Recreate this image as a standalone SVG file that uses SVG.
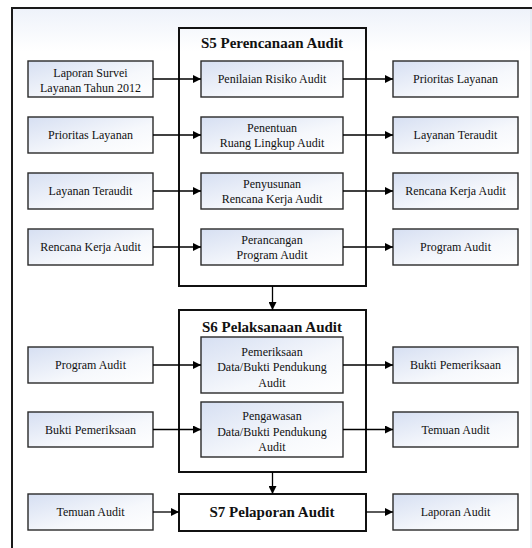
<svg xmlns="http://www.w3.org/2000/svg" width="532" height="548" viewBox="0 0 532 548" font-family="Liberation Serif, Times New Roman, serif">
<defs>
<linearGradient id="g" x1="0" y1="0" x2="1" y2="1">
<stop offset="0" stop-color="#d6dff2"/>
<stop offset="0.6" stop-color="#f6f8fc"/>
<stop offset="1" stop-color="#ffffff"/>
</linearGradient>
<linearGradient id="bg" x1="0" y1="0" x2="0" y2="1">
<stop offset="0" stop-color="#eef2fa"/>
<stop offset="0.08" stop-color="#ffffff"/>
<stop offset="1" stop-color="#ffffff"/>
</linearGradient>
<marker id="ah" viewBox="0 0 10 10" refX="10" refY="5" markerWidth="8" markerHeight="8" markerUnits="userSpaceOnUse" orient="auto">
<path d="M0,0 L10,5 L0,10 z" fill="#000"/>
</marker>
<style>
.b{fill:url(#g);stroke:#2a2a2a;stroke-width:1.4}
.c{fill:none;stroke:#111;stroke-width:2}
.w{fill:#fff;stroke:#111;stroke-width:2}
text{fill:#111;text-anchor:middle}
.t{font-size:12px}
.h{font-size:15px;font-weight:bold}
.a{stroke:#000;stroke-width:1.3;fill:none;marker-end:url(#ah)}
</style>
</defs>
<rect x="12" y="8" width="520" height="540" fill="url(#bg)"/>
<line x1="531" y1="9" x2="531" y2="548" stroke="#dde3ee" stroke-width="1"/>
<path d="M12,548 V8 H532" fill="none" stroke="#1a1a1a" stroke-width="2"/>

<g id="s5">
<rect class="c" x="179" y="28" width="187" height="258"/>
<text class="h" x="272" y="48" font-family="Liberation Serif">S5 Perencanaan Audit</text>
</g>
<g id="s6">
<rect class="c" x="179" y="310" width="187" height="162"/>
<text class="h" x="272" y="332" font-family="Liberation Serif">S6 Pelaksanaan Audit</text>
</g>
<g id="s7">
<rect class="w" x="179" y="494" width="187" height="37"/>
<text class="h" x="272" y="517" font-family="Liberation Serif">S7 Pelaporan Audit</text>
</g>

<g id="in1"><rect class="b" x="28" y="61" width="125" height="36"/><text class="t" x="90.5" y="77">Laporan Survei</text><text class="t" x="90.5" y="92">Layanan Tahun 2012</text></g>
<g id="in2"><rect class="b" x="28" y="117" width="125" height="36"/><text class="t" x="90.5" y="139">Prioritas Layanan</text></g>
<g id="in3"><rect class="b" x="28" y="173" width="125" height="36"/><text class="t" x="90.5" y="195">Layanan Teraudit</text></g>
<g id="in4"><rect class="b" x="28" y="229" width="125" height="36"/><text class="t" x="90.5" y="251">Rencana Kerja Audit</text></g>
<g id="in5"><rect class="b" x="28" y="347" width="125" height="36"/><text class="t" x="90.5" y="369">Program Audit</text></g>
<g id="in6"><rect class="b" x="28" y="412" width="125" height="35"/><text class="t" x="90.5" y="434">Bukti Pemeriksaan</text></g>
<g id="in7"><rect class="b" x="28" y="494" width="125" height="36"/><text class="t" x="90.5" y="516">Temuan Audit</text></g>

<g id="p1"><rect class="b" x="201" y="61" width="142" height="36"/><text class="t" x="272" y="83">Penilaian Risiko Audit</text></g>
<g id="p2"><rect class="b" x="201" y="117" width="142" height="36"/><text class="t" x="272" y="132">Penentuan</text><text class="t" x="272" y="147">Ruang Lingkup Audit</text></g>
<g id="p3"><rect class="b" x="201" y="173" width="142" height="36"/><text class="t" x="272" y="188">Penyusunan</text><text class="t" x="272" y="203">Rencana Kerja Audit</text></g>
<g id="p4"><rect class="b" x="201" y="229" width="142" height="36"/><text class="t" x="272" y="244">Perancangan</text><text class="t" x="272" y="259">Program Audit</text></g>
<g id="p5"><rect class="b" x="201" y="337" width="142" height="56"/><text class="t" x="272" y="356">Pemeriksaan</text><text class="t" x="272" y="371">Data/Bukti Pendukung</text><text class="t" x="272" y="387">Audit</text></g>
<g id="p6"><rect class="b" x="201" y="402" width="142" height="55"/><text class="t" x="272" y="420">Pengawasan</text><text class="t" x="272" y="436">Data/Bukti Pendukung</text><text class="t" x="272" y="451">Audit</text></g>

<g id="out1"><rect class="b" x="393" y="61" width="125" height="36"/><text class="t" x="455.5" y="83">Prioritas Layanan</text></g>
<g id="out2"><rect class="b" x="393" y="117" width="125" height="36"/><text class="t" x="455.5" y="139">Layanan Teraudit</text></g>
<g id="out3"><rect class="b" x="393" y="173" width="125" height="36"/><text class="t" x="455.5" y="195">Rencana Kerja Audit</text></g>
<g id="out4"><rect class="b" x="393" y="229" width="125" height="36"/><text class="t" x="455.5" y="251">Program Audit</text></g>
<g id="out5"><rect class="b" x="393" y="347" width="125" height="36"/><text class="t" x="455.5" y="369">Bukti Pemeriksaan</text></g>
<g id="out6"><rect class="b" x="393" y="412" width="125" height="35"/><text class="t" x="455.5" y="434">Temuan Audit</text></g>
<g id="out7"><rect class="b" x="393" y="494" width="125" height="36"/><text class="t" x="455.5" y="516">Laporan Audit</text></g>

<g id="connectors">
<line class="a" x1="153" y1="79" x2="201" y2="79"/>
<line class="a" x1="153" y1="135" x2="201" y2="135"/>
<line class="a" x1="153" y1="191" x2="201" y2="191"/>
<line class="a" x1="153" y1="247" x2="201" y2="247"/>
<line class="a" x1="153" y1="365" x2="201" y2="365"/>
<line class="a" x1="153" y1="429.5" x2="201" y2="429.5"/>
<line class="a" x1="153" y1="512" x2="179" y2="512"/>
<line class="a" x1="343" y1="79" x2="393" y2="79"/>
<line class="a" x1="343" y1="135" x2="393" y2="135"/>
<line class="a" x1="343" y1="191" x2="393" y2="191"/>
<line class="a" x1="343" y1="247" x2="393" y2="247"/>
<line class="a" x1="343" y1="365" x2="393" y2="365"/>
<line class="a" x1="343" y1="429.5" x2="393" y2="429.5"/>
<line class="a" x1="366" y1="512" x2="393" y2="512"/>
<line class="a" x1="272.5" y1="286" x2="272.5" y2="310"/>
<line class="a" x1="272.5" y1="472" x2="272.5" y2="494"/>
</g>
</svg>
